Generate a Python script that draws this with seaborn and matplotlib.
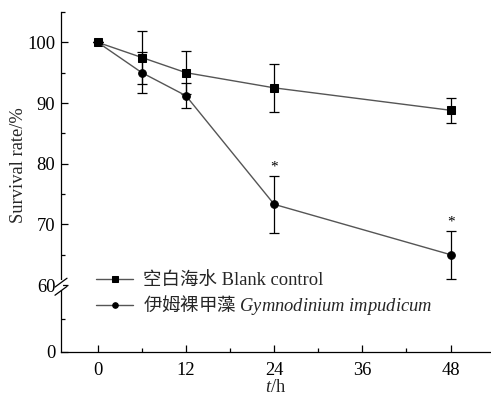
import numpy as np
import pandas as pd
import matplotlib
matplotlib.use("Agg")
import matplotlib.pyplot as plt
import seaborn as sns
from matplotlib.ticker import FixedLocator

# ---- data ----
hours = [0, 6, 12, 24, 48]
blank_mean = [100.0, 97.5, 95.0, 92.5, 88.8]
blank_err = [0.0, 4.4, 3.5, 4.0, 2.05]
gym_mean = [100.0, 95.0, 91.2, 73.3, 65.0]
gym_err = [0.0, 3.4, 2.1, 4.7, 3.95]
label_blank = "空白海水 Blank control"
label_gym = "伊姆裸甲藻 $\\mathit{Gymnodinium\\ impudicum}$"
x_ticks = [0, 12, 24, 36, 48]
y_ticks = [0, 60, 70, 80, 90, 100]
star_x = [24, 48]

sns.set_style("ticks")
plt.rcParams['font.family'] = ['Liberation Serif', 'Noto Sans CJK SC', 'DejaVu Sans']
plt.rcParams['mathtext.fontset'] = 'custom'
plt.rcParams['mathtext.it'] = 'Liberation Serif:italic'
plt.rcParams['mathtext.rm'] = 'Liberation Serif'
plt.rcParams['mathtext.sf'] = 'Liberation Serif'

FS = 13.3

df = pd.DataFrame({
    "t": hours * 2,
    "rate": blank_mean + gym_mean,
    "group": [label_blank] * len(hours) + [label_gym] * len(hours),
})

fig = plt.figure(figsize=(4.91, 4.03), dpi=100)
ax = fig.add_axes([61 / 491, 51 / 403, 430 / 491, 340 / 403])

BREAK = 60.0
LOWSPAN = 11.04


def fwd(y):
    y = np.asarray(y, dtype=float)
    return np.where(y >= BREAK, y - BREAK + LOWSPAN, y * LOWSPAN / BREAK)


def inv(t):
    t = np.asarray(t, dtype=float)
    return np.where(t >= LOWSPAN, t + BREAK - LOWSPAN, t * BREAK / LOWSPAN)


ax.set_yscale('function', functions=(fwd, inv))

line_col = '#555555'
sns.lineplot(data=df[df.group == label_blank], x="t", y="rate", ax=ax,
             color=line_col, lw=1.0, marker='s', markersize=5.2,
             markerfacecolor='black', markeredgecolor='black',
             label=label_blank, zorder=3)
sns.lineplot(data=df[df.group == label_gym], x="t", y="rate", ax=ax,
             color=line_col, lw=1.0, marker='o', markersize=5.5,
             markerfacecolor='black', markeredgecolor='black',
             label=label_gym, zorder=3)

ax.errorbar(hours, blank_mean, yerr=blank_err, fmt='none', ecolor='black',
            elinewidth=0.9, capsize=3.5, capthick=0.9, zorder=2)
ax.errorbar(hours, gym_mean, yerr=gym_err, fmt='none', ecolor='black',
            elinewidth=0.9, capsize=3.5, capthick=0.9, zorder=2)

for sx in star_x:
    i = hours.index(sx)
    ax.text(sx, gym_mean[i] + gym_err[i] + 0.4, "*", ha='center', va='bottom',
            fontsize=11, color='black')

ax.set_xlim(-5, 53.5)
ax.set_ylim(0, 105)
ax.xaxis.set_major_locator(FixedLocator(x_ticks))
ax.xaxis.set_minor_locator(FixedLocator([6, 18, 30, 42]))
ax.yaxis.set_major_locator(FixedLocator(y_ticks))
ax.yaxis.set_minor_locator(FixedLocator([30, 65, 75, 85, 95, 105]))
ax.set_xticklabels([str(v) for v in x_ticks])
ax.set_yticklabels([str(v) for v in y_ticks])
ax.tick_params(which='both', direction='in', width=0.9, colors='black',
               labelsize=FS)
ax.tick_params(which='major', length=5)
ax.tick_params(which='minor', length=3)
ax.tick_params(axis='x', pad=7)
ax.tick_params(axis='y', pad=4)

for s in ['top', 'right']:
    ax.spines[s].set_visible(False)
for s in ['left', 'bottom']:
    ax.spines[s].set_linewidth(0.9)
    ax.spines[s].set_color('black')

ax.set_xlabel("$\\mathit{t}\\mathsf{/h}$", fontsize=FS, labelpad=0)
ax.set_ylabel("Survival rate/%", fontsize=FS)
ax.yaxis.set_label_coords(-0.079, 0.55)

# axis break marks at y=60
bt = (LOWSPAN) / (105 - BREAK + LOWSPAN)
kw = dict(transform=ax.transAxes, clip_on=False, color='black', lw=0.9)
ax.plot([0, 0], [bt - 0.01, bt + 0.008], color='white', lw=3,
        transform=ax.transAxes, clip_on=False, zorder=5)
ax.plot([-0.014, 0.014], [bt - 0.006, bt + 0.02], zorder=6, **kw)
ax.plot([-0.014, 0.014], [bt - 0.03, bt - 0.004], zorder=6, **kw)

leg = ax.legend(loc='upper left', bbox_to_anchor=(0.065, 0.255), frameon=False,
                fontsize=FS, handlelength=2.0, handletextpad=0.5,
                labelspacing=0.2, borderaxespad=0)
for h in leg.legend_handles:
    h.set_markersize(4)
# the mathtext label uses the text's first family for its plain (Chinese) part
leg.get_texts()[1].set_family(['Noto Sans CJK SC', 'Liberation Serif'])

fig.savefig("out.png", dpi=100)
